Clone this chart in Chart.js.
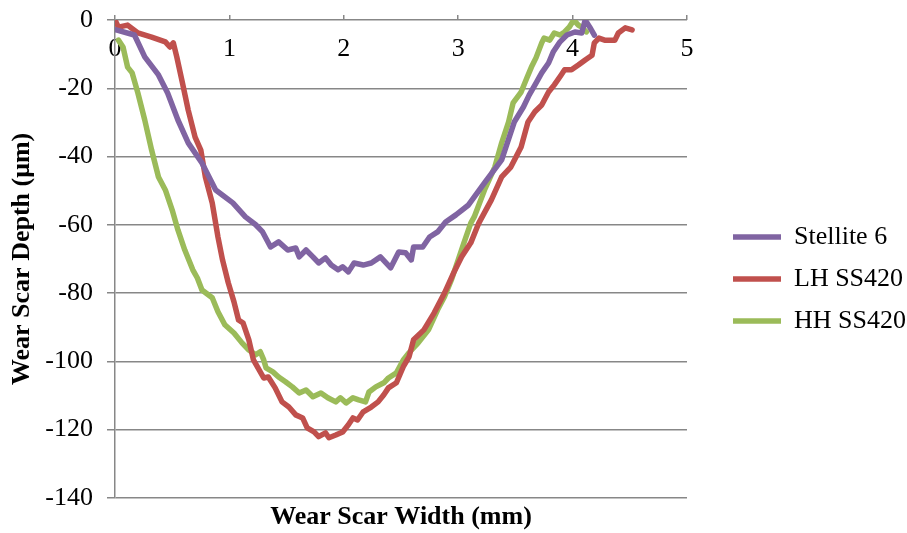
<!DOCTYPE html>
<html>
<head>
<meta charset="utf-8">
<script src="https://cdn.jsdelivr.net/npm/chart.js@4"></script>
<style>
  html, body { margin: 0; padding: 0; background: #fff; }
</style>
</head>
<body>
<canvas id="graphCanvas" width="907" height="533"></canvas>
<script>
// DATA
const seriesNames = ['Stellite 6', 'LH SS420', 'HH SS420'];

const stelliteX = [0.01, 0.17, 0.26, 0.38, 0.46, 0.55, 0.64, 0.76, 0.88, 1.03, 1.14, 1.23, 1.29, 1.36, 1.43, 1.51, 1.58, 1.61, 1.67, 1.73, 1.78, 1.84, 1.89, 1.95, 1.99, 2.04, 2.09, 2.17, 2.24, 2.32, 2.41, 2.48, 2.54, 2.59, 2.61, 2.69, 2.75, 2.82, 2.89, 2.98, 3.09, 3.23, 3.38, 3.49, 3.57, 3.62, 3.68, 3.73, 3.79, 3.83, 3.89, 3.95, 4.02, 4.08, 4.11, 4.15, 4.19];
const stelliteY = [-2.9, -4.4, -10.8, -16.1, -21.4, -29.3, -36.0, -41.9, -49.8, -53.6, -57.7, -60.0, -62.1, -66.5, -65.0, -67.4, -66.8, -69.4, -67.4, -69.4, -71.2, -69.7, -71.8, -73.2, -72.3, -73.8, -71.2, -71.8, -71.2, -69.4, -72.6, -68.0, -68.2, -70.3, -66.5, -66.5, -63.6, -62.1, -59.2, -57.1, -54.2, -47.7, -41.0, -29.9, -25.5, -22.0, -18.5, -15.5, -12.6, -9.4, -6.4, -4.4, -3.5, -3.8, 0, -2.1, -4.4];

const lhX = [0.00, 0.03, 0.11, 0.20, 0.32, 0.44, 0.48, 0.51, 0.54, 0.59, 0.64, 0.70, 0.75, 0.79, 0.85, 0.90, 0.94, 0.99, 1.04, 1.08, 1.12, 1.17, 1.21, 1.25, 1.30, 1.34, 1.40, 1.46, 1.52, 1.58, 1.64, 1.68, 1.74, 1.78, 1.84, 1.87, 1.93, 1.99, 2.04, 2.08, 2.12, 2.17, 2.24, 2.30, 2.35, 2.39, 2.46, 2.52, 2.57, 2.61, 2.70, 2.79, 2.88, 2.96, 3.03, 3.11, 3.18, 3.29, 3.38, 3.46, 3.55, 3.61, 3.67, 3.73, 3.79, 3.84, 3.90, 3.93, 3.99, 4.05, 4.11, 4.17, 4.19, 4.23, 4.28, 4.37, 4.40, 4.46, 4.52];
const lhY = [0, -2.1, -1.5, -3.8, -5.0, -6.4, -7.9, -6.7, -10.8, -18.5, -26.4, -34.3, -38.1, -46.0, -53.6, -63.6, -70.3, -77.0, -82.6, -87.9, -88.8, -93.7, -99.6, -101.9, -104.9, -104.6, -107.8, -111.9, -113.4, -115.7, -116.6, -119.5, -120.7, -122.1, -121.0, -122.4, -121.6, -120.7, -118.6, -116.6, -117.2, -114.8, -113.4, -111.9, -109.8, -107.8, -106.3, -101.6, -98.7, -93.7, -90.8, -85.8, -80.0, -74.1, -69.4, -65.3, -59.5, -52.7, -46.0, -43.1, -37.2, -29.9, -26.9, -24.9, -21.1, -19.0, -16.1, -14.6, -14.6, -13.2, -11.7, -10.3, -6.7, -5.3, -5.9, -5.9, -3.8, -2.3, -2.9];

const hhX = [0.03, 0.07, 0.11, 0.15, 0.20, 0.26, 0.32, 0.38, 0.44, 0.50, 0.55, 0.61, 0.68, 0.72, 0.76, 0.85, 0.90, 0.96, 1.04, 1.11, 1.17, 1.23, 1.27, 1.30, 1.32, 1.38, 1.43, 1.49, 1.55, 1.61, 1.67, 1.73, 1.80, 1.86, 1.93, 1.97, 2.02, 2.08, 2.13, 2.19, 2.22, 2.28, 2.35, 2.39, 2.46, 2.52, 2.57, 2.65, 2.74, 2.82, 2.88, 2.94, 3.00, 3.05, 3.11, 3.14, 3.23, 3.32, 3.38, 3.44, 3.48, 3.55, 3.60, 3.64, 3.68, 3.73, 3.75, 3.80, 3.84, 3.89, 3.93, 3.97, 4.01, 4.05, 4.08, 4.12];
const hhY = [-5.9, -7.9, -13.8, -15.5, -21.4, -29.3, -38.1, -46.0, -49.8, -55.7, -61.5, -67.4, -73.2, -75.6, -79.1, -81.4, -85.5, -89.3, -91.7, -94.6, -96.7, -98.1, -97.2, -99.6, -101.9, -103.1, -104.6, -106.0, -107.5, -109.3, -108.4, -110.4, -109.3, -110.7, -111.9, -110.7, -112.2, -110.7, -111.3, -111.9, -109.0, -107.5, -106.3, -104.9, -103.4, -99.6, -97.5, -94.6, -90.8, -84.9, -81.1, -76.2, -70.3, -65.3, -59.5, -57.7, -49.8, -43.1, -36.0, -29.9, -24.3, -21.1, -17.0, -13.8, -11.1, -6.7, -5.3, -5.9, -3.8, -4.4, -3.5, -2.1, 0, -1.5, -2.1, -3.5];

const seriesColors = ['#8064A2', '#C0504D', '#9BBB59'];

// SETUP BLOCK
const toPoints = (xs, ys) => xs.map((x, i) => ({ x: x, y: ys[i] }));
const allX = [stelliteX, lhX, hhX];
const allY = [stelliteY, lhY, hhY];

const data = {
    datasets: seriesNames.map((name, i) => ({
        label: name,
        data: toPoints(allX[i], allY[i]),
        borderColor: seriesColors[i],
        backgroundColor: seriesColors[i],
        borderWidth: 5.5,
        borderCapStyle: 'round',
        borderJoinStyle: 'round',
        pointRadius: 0,
        tension: 0,
        fill: false
    }))
};

const serif = "'Times New Roman', 'Liberation Serif', serif";
Chart.defaults.font.family = serif;
Chart.defaults.font.size = 26;
Chart.defaults.color = '#000';
const gridGrey = '#878787';

// legend box: fixed width so the items sit where the reference has them
const legendWidth = {
    id: 'legendWidth',
    beforeInit(chart) {
        const fit = chart.legend.fit;
        chart.legend.fit = function () {
            fit.call(this);
            this.width = 190;
        };
    }
};

// CONFIG BLOCK
const config = {
    type: 'line',
    data,
    options: {
        responsive: false,
        animation: false,
        layout: { padding: { top: 15, left: 3, right: 0, bottom: -10 } },
        plugins: {
            legend: {
                position: 'right',
                labels: {
                    usePointStyle: true,
                    pointStyle: 'line',
                    pointStyleWidth: 48,
                    padding: 16,
                    color: '#000',
                    font: { size: 26 }
                }
            },
            tooltip: { enabled: false }
        },
        scales: {
            x: {
                type: 'linear',
                position: 'bottom',
                min: 0,
                max: 5,
                ticks: { display: false },
                grid: { display: false, drawTicks: false },
                border: { display: false },
                title: {
                    display: true,
                    text: 'Wear Scar Width (mm)',
                    font: { weight: 'bold' },
                    padding: { top: 4, bottom: 10 }
                }
            },
            xLabels: {
                axis: 'x',
                type: 'linear',
                position: { y: 0 },
                min: 0,
                max: 5,
                ticks: { stepSize: 1, padding: 14 },
                grid: { display: false, drawTicks: false },
                border: { display: false }
            },
            xMarks: {
                axis: 'x',
                type: 'linear',
                position: 'top',
                min: 0,
                max: 5,
                ticks: { display: false, stepSize: 1 },
                grid: { drawOnChartArea: false, color: gridGrey, lineWidth: 1.5, tickLength: 5 },
                border: { display: false }
            },
            y: {
                min: -140,
                max: 0,
                ticks: { stepSize: 20, padding: 14 },
                grid: { color: gridGrey, lineWidth: 1.5, tickLength: 8 },
                border: { color: gridGrey, width: 1.5 },
                title: {
                    display: true,
                    text: 'Wear Scar Depth (μm)',
                    font: { weight: 'bold' },
                    padding: { top: 4, bottom: 4 }
                },
                afterFit: (scale) => {
                    scale.width = 112;
                    scale.paddingTop = 16;
                    scale.paddingBottom = 16;
                }
            },
            yGap: {
                axis: 'y',
                type: 'linear',
                position: 'right',
                min: -140,
                max: 0,
                ticks: { display: false },
                grid: { display: false, drawTicks: false },
                border: { display: false },
                afterFit: (scale) => { scale.width = 30; }
            }
        }
    },
    plugins: [legendWidth]
};

// RENDER BLOCK
const graphCanvas = new Chart(
    document.getElementById('graphCanvas').getContext('2d'),
    config
);
</script>
</body>
</html>
